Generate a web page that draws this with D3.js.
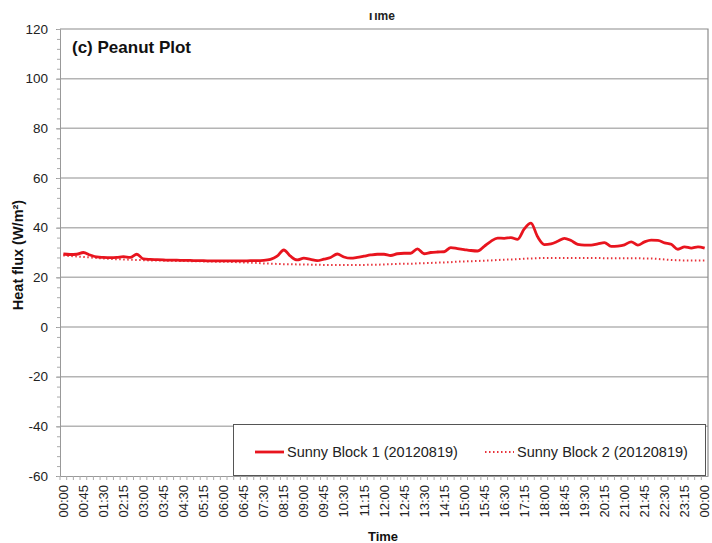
<!DOCTYPE html>
<html><head><meta charset="utf-8">
<script src="https://cdn.jsdelivr.net/npm/d3@7"></script>
<style>body{margin:0;background:#fff}svg{display:block;font-family:"Liberation Sans",Arial,sans-serif}</style>
</head><body><svg id="c" width="712" height="543"></svg>
<script>
// 15-minute steps from 00:00 to 24:00 (shown as 00:00)
const times = d3.range(97).map(i => {
  const m = (i * 15) % 1440;
  return String(Math.floor(m / 60)).padStart(2, "0") + ":" + String(m % 60).padStart(2, "0");
});
const block1 = [
  29.4,29.2,29.3,30.0,29.0,28.2,28.0,27.9,28.0,28.3,28.0,29.3,27.4,27.2,27.1,27.0,
  26.9,26.9,26.8,26.8,26.7,26.7,26.6,26.6,26.6,26.6,26.6,26.6,26.7,26.7,26.8,27.2,
  28.5,31.0,28.5,27.0,27.7,27.2,26.7,27.3,28.0,29.4,28.2,27.7,28.0,28.5,29.0,29.3,
  29.3,28.8,29.5,29.7,29.7,31.5,29.5,30.0,30.2,30.3,32.0,31.6,31.2,30.8,30.6,32.5,
  34.5,35.8,35.7,36.0,35.3,39.5,41.8,36.3,33.2,33.5,34.5,35.7,34.8,33.3,33.0,33.0,
  33.5,34.0,32.5,32.6,33.1,34.3,33.0,34.3,35.0,34.9,33.9,33.3,31.3,32.3,31.8,32.3,31.8
];
const block2 = [
  28.8,28.6,28.4,28.2,28.0,27.8,27.6,27.4,27.3,27.2,27.1,27.0,26.9,26.8,26.8,26.7,
  26.7,26.6,26.6,26.5,26.5,26.4,26.4,26.3,26.3,26.2,26.1,26.0,25.9,25.8,25.6,25.5,
  25.4,25.3,25.3,25.2,25.2,25.1,25.1,25.0,25.0,25.0,25.0,25.0,25.0,25.0,25.1,25.1,
  25.2,25.3,25.4,25.5,25.5,25.6,25.7,25.8,25.9,26.0,26.1,26.3,26.4,26.5,26.6,26.7,
  26.8,27.0,27.1,27.2,27.3,27.5,27.6,27.7,27.8,27.8,27.8,27.8,27.8,27.8,27.8,27.8,
  27.8,27.7,27.7,27.7,27.7,27.7,27.7,27.6,27.6,27.4,27.2,27.0,26.9,26.8,26.8,26.8,26.8
];
const seriesNames = ["Sunny Block 1 (20120819)", "Sunny Block 2 (20120819)"];
const yTicks = [120,100,80,60,40,20,0,-20,-40,-60];

const svg = d3.select("#c");
const L = 60, R = 708, T = 29, B = 476;
const idx = d3.range(times.length);
const x = d3.scaleBand().domain(idx).range([L, R]);
const y = d3.scaleLinear().domain([-60, 120]).range([B, T]);
const cx = i => x(i) + x.bandwidth() / 2;

// clipped top title remnant
svg.append("clipPath").attr("id","topclip").append("rect").attr("x",0).attr("y",13).attr("width",712).attr("height",20);
svg.append("text").attr("clip-path","url(#topclip)").attr("x",381).attr("y",20)
  .attr("text-anchor","middle").attr("font-size",12).attr("font-weight","bold").attr("fill","#222").text("Time");

// gridlines
svg.append("g").selectAll("line").data(yTicks.filter(v => v !== -60 && v !== 120)).join("line")
  .attr("x1", L).attr("x2", R).attr("y1", d => y(d)).attr("y2", d => y(d))
  .attr("stroke", "#b4b4b4").attr("stroke-width", 1.5);
// plot border top/right
svg.append("path").attr("d", `M${L},${T}H${R}V${B}`).attr("fill","none").attr("stroke","#8c8c8c").attr("stroke-width",1.2);

// y axis
const yAxis = svg.append("g").attr("transform", `translate(${L},0)`)
  .call(d3.axisLeft(y).tickValues(yTicks).tickSize(4).tickPadding(8).tickFormat(d => String(d)));
yAxis.select(".domain").attr("stroke", "#999");
yAxis.selectAll(".tick line").attr("stroke", "#999");
yAxis.selectAll("text").attr("font-size", 13.5).attr("fill", "#222").attr("font-family","Liberation Sans, Arial");
svg.append("g").attr("transform", `translate(${L},0)`)
  .call(d3.axisLeft(y).tickValues(d3.range(-60, 121, 4)).tickSize(3).tickFormat(""))
  .call(g => g.select(".domain").remove())
  .selectAll("line").attr("stroke", "#aaa");

// x axis
const xAxis = svg.append("g").attr("transform", `translate(0,${B})`)
  .call(d3.axisBottom(x).tickValues(idx.filter(i => i % 3 === 0)).tickFormat(i => times[i]).tickSize(0).tickPadding(8));
xAxis.select(".domain").attr("stroke", "#999");
xAxis.selectAll("text").attr("font-size", 13).attr("fill", "#222").attr("font-family","Liberation Sans, Arial")
  .attr("transform", "rotate(-90)").attr("text-anchor", "end").attr("x", -9).attr("y", 0).attr("dy", "0.35em");
svg.append("g").attr("transform", `translate(0,${B})`)
  .call(d3.axisBottom(x).tickValues(idx).tickSize(4).tickFormat(""))
  .call(g => g.select(".domain").remove())
  .selectAll(".tick").attr("transform", i => `translate(${x(i)},0)`)
  .selectAll("line").attr("stroke", "#aaa");

// lines
const line = d3.line().x((d, i) => cx(i)).y(d => y(d)).curve(d3.curveMonotoneX);
svg.append("path").datum(block2).attr("d", line).attr("fill", "none")
  .attr("stroke", "#e8323a").attr("stroke-width", 2).attr("stroke-dasharray", "1.5,2.5");
svg.append("path").datum(block1).attr("d", line).attr("fill", "none")
  .attr("stroke", "#e8141e").attr("stroke-width", 2.8);

// panel label
svg.append("text").attr("x", 72).attr("y", 53).attr("font-size", 17).attr("font-weight", "bold")
  .attr("fill", "#111").text("(c) Peanut Plot");

// legend
const lg = svg.append("g");
lg.append("rect").attr("x", 233.5).attr("y", 424.5).attr("width", 472).attr("height", 51)
  .attr("fill", "#fff").attr("stroke", "#555").attr("stroke-width", 1);
lg.append("line").attr("x1", 255).attr("x2", 284).attr("y1", 452).attr("y2", 452)
  .attr("stroke", "#e8141e").attr("stroke-width", 2.8);
lg.append("text").attr("x", 287).attr("y", 457).attr("font-size", 14.5).attr("fill", "#222").text(seriesNames[0]);
lg.append("line").attr("x1", 485).attr("x2", 514).attr("y1", 452).attr("y2", 452)
  .attr("stroke", "#e8323a").attr("stroke-width", 2).attr("stroke-dasharray", "1.5,2.5");
lg.append("text").attr("x", 517).attr("y", 457).attr("font-size", 14.5).attr("fill", "#222").text(seriesNames[1]);

// axis titles
svg.append("text").attr("x", 383).attr("y", 541).attr("text-anchor", "middle")
  .attr("font-size", 13).attr("font-weight", "bold").attr("fill", "#111").text("Time");
svg.append("text").attr("transform", "translate(23,255) rotate(-90)").attr("text-anchor", "middle")
  .attr("font-size", 14.5).attr("font-weight", "bold").attr("fill", "#111")
  .text("Heat flux (W/m²)");
</script></body></html>
